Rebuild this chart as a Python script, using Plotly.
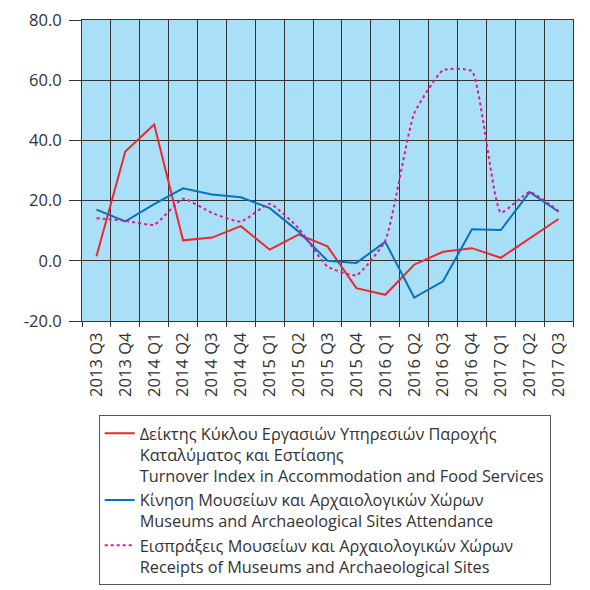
import plotly.graph_objects as go

quarters = ["2013 Q3", "2013 Q4", "2014 Q1", "2014 Q2", "2014 Q3", "2014 Q4",
            "2015 Q1", "2015 Q2", "2015 Q3", "2015 Q4", "2016 Q1", "2016 Q2",
            "2016 Q3", "2016 Q4", "2017 Q1", "2017 Q2", "2017 Q3"]

turnover = [1.5, 36.3, 45.3, 6.8, 7.7, 11.5, 3.7, 8.7, 4.8, -9.1, -11.3,
            -1.3, 3.0, 4.2, 1.0, 7.5, 13.9]
attendance = [17.0, 13.1, 18.8, 24.1, 22.0, 21.1, 17.5, 9.7, 0.0, -0.7, 6.3,
              -12.2, -6.8, 10.5, 10.2, 22.8, 16.3]
receipts = [14.1, 13.3, 12.0, 20.6, 15.9, 13.0, 18.9, 10.8, -1.9, -4.8, 6.7,
            48.9, 63.3, 63.0, 16.1, 22.8, 16.5]

y_ticks = [-20, 0, 20, 40, 60, 80]
y_labels = ["-20.0", "0.0", "20.0", "40.0", "60.0", "80.0"]

names = [
    "Δείκτης Κύκλου Εργασιών Υπηρεσιών Παροχής<br>Καταλύματος και Εστίασης<br>Turnover Index in Accommodation and Food Services",
    "Κίνηση Μουσείων και Αρχαιολογικών Χώρων<br>Museums and Archaeological Sites Attendance",
    "Εισπράξεις Μουσείων και Αρχαιολογικών Χώρων<br>Receipts of Museums and Archaeological Sites",
]

fig = go.Figure()
fig.add_trace(go.Scatter(x=quarters, y=turnover, name=names[0], mode="lines",
                         line=dict(color="#ec2830", width=2)))
fig.add_trace(go.Scatter(x=quarters, y=attendance, name=names[1], mode="lines",
                         line=dict(color="#0a72bd", width=2)))
fig.add_trace(go.Scatter(x=quarters, y=receipts, name=names[2], mode="lines",
                         line=dict(color="#e0198c", width=2, dash="dot",
                                   shape="spline", smoothing=0.45)))

# page body has an 8px margin, so the figure is offset by 8px
fig.update_layout(
    width=590, height=590,
    margin=dict(l=74, r=25, t=12, b=277),
    paper_bgcolor="white",
    plot_bgcolor="#aadff8",
    font=dict(family="Open Sans", size=16.5, color="#333333"),
    showlegend=True,
    legend=dict(
        x=0.034, y=-0.313, xanchor="left", yanchor="top",
        bordercolor="#555555", borderwidth=1,
        font=dict(size=16.3, color="#333333"),
        tracegroupgap=0, valign="top", itemwidth=30,
    ),
)
fig.update_xaxes(
    type="category", tickson="boundaries", tickangle=-90,
    range=[-0.5, 16.5], automargin=False,
    showgrid=True, gridcolor="#333333", gridwidth=1,
    ticks="outside", ticklen=5, tickcolor="#333333",
    ticklabelstandoff=4, ticklabeloverflow="allow",
    showline=True, linecolor="#333333", mirror=True,
)
fig.update_yaxes(
    range=[-20, 80], tickvals=y_ticks, ticktext=y_labels, automargin=False,
    showgrid=True, gridcolor="#333333", gridwidth=1,
    ticks="outside", ticklen=12, tickcolor="#333333",
    ticklabelstandoff=4, ticklabeloverflow="allow",
    showline=True, linecolor="#333333", mirror=True,
    zeroline=False,
)

fig.write_html("out.html")
